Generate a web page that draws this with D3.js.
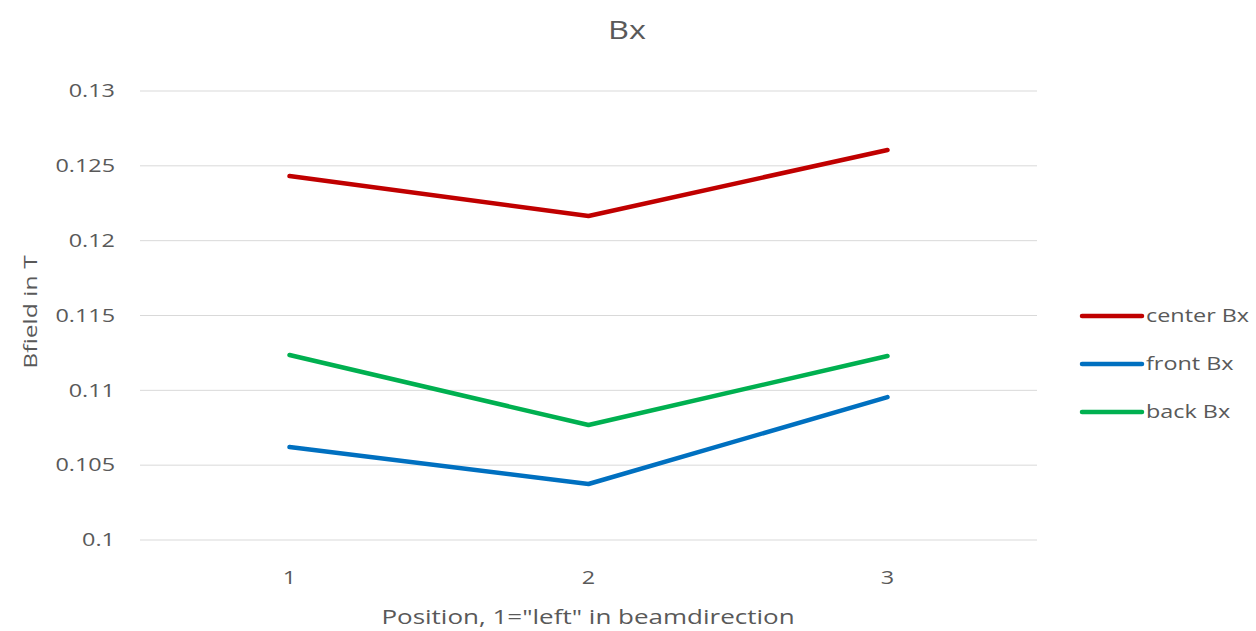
<!DOCTYPE html>
<html>
<head>
<meta charset="utf-8">
<script src="https://cdn.jsdelivr.net/npm/d3@7"></script>
<style>
  body { margin: 0; background: #fff; }
  svg { font-family: "Open Sans", "Liberation Sans", sans-serif; }
</style>
</head>
<body>
<svg id="chart" width="1256" height="631"></svg>
<script>
// data
var positions = ["1", "2", "3"];
var centerBx = [0.12432, 0.12165, 0.12606];
var frontBx = [0.10621, 0.10374, 0.10955];
var backBx = [0.11236, 0.10768, 0.11229];
var yTicks = [0.1, 0.105, 0.11, 0.115, 0.12, 0.125, 0.13];
var seriesNames = ["center Bx", "front Bx", "back Bx"];
var seriesColors = ["#c00000", "#0070c0", "#00b050"];

var series = [centerBx, frontBx, backBx].map(function (v, i) {
    return { name: seriesNames[i], color: seriesColors[i], values: v };
});

var svg = d3.select("#chart");
var stretch = 1.3; // the reference text is wide

// text placed with a translate, then stretched sideways
function label(parent, px, py, txt, size, anchor, rot) {
    var tf = "translate(" + px + "," + py + ")" + (rot ? " rotate(" + rot + ")" : "") + " scale(" + stretch + ",1)";
    return parent.append("text")
        .attr("transform", tf)
        .attr("dy", "0.35em")
        .attr("text-anchor", anchor)
        .attr("fill", "#595959")
        .style("font-size", size + "px")
        .text(txt);
}

var x = d3.scalePoint()
    .domain(positions)
    .range([140, 1037])
    .padding(0.5);

var y = d3.scaleLinear()
    .domain([0.1, 0.13])
    .range([540, 91]);

// gridlines
svg.append("g")
    .selectAll("line")
    .data(yTicks)
    .enter().append("line")
    .attr("x1", 140).attr("x2", 1037)
    .attr("y1", function (d) { return y(d); })
    .attr("y2", function (d) { return y(d); })
    .attr("stroke", "#d9d9d9")
    .attr("stroke-width", 1);

var yg = svg.append("g");
yTicks.forEach(function (d) {
    label(yg, 115, y(d), String(d), 18, "end");
});

var xg = svg.append("g");
positions.forEach(function (d) {
    label(xg, x(d), 578, d, 18, "middle");
});

var line = d3.line()
    .x(function (d, i) { return x(positions[i]); })
    .y(function (d) { return y(d); });

svg.append("g")
    .selectAll("path")
    .data(series)
    .enter().append("path")
    .attr("d", function (s) { return line(s.values); })
    .attr("fill", "none")
    .attr("stroke", function (s) { return s.color; })
    .attr("stroke-width", 4.5)
    .attr("stroke-linejoin", "round")
    .attr("stroke-linecap", "round");

// title + axis titles
label(svg, 627, 30, "Bx", 25, "middle");
label(svg, 30, 312, "Bfield in T", 19, "middle", -90);
label(svg, 588, 617, "Position, 1=\"left\" in beamdirection", 20, "middle");

// legend
var legend = svg.append("g")
    .selectAll("g")
    .data(series)
    .enter().append("g")
    .attr("transform", function (d, i) { return "translate(1082," + (316 + i * 48) + ")"; });

legend.append("line")
    .attr("x1", 0).attr("x2", 60)
    .attr("stroke", function (d) { return d.color; })
    .attr("stroke-width", 4.5)
    .attr("stroke-linecap", "round");

legend.each(function (d) {
    label(d3.select(this), 64, 0, d.name, 18, "start");
});
</script>
</body>
</html>
